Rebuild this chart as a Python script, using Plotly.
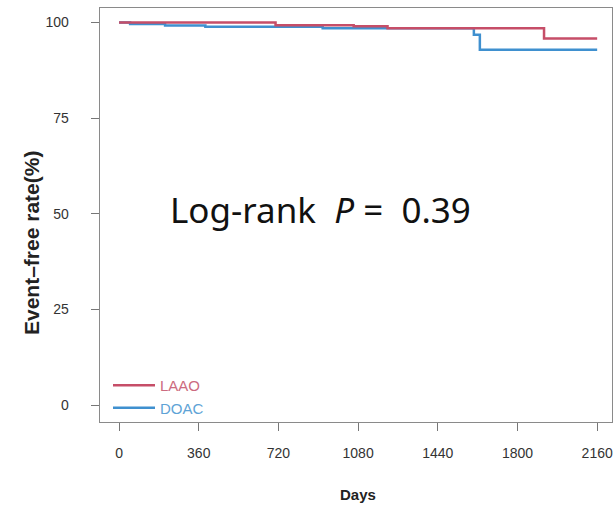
import plotly.graph_objects as go

# Kaplan-Meier step data
days_laao = [0, 707, 1060, 1213, 1920, 2160]
surv_laao = [100, 99.3, 99.0, 98.5, 95.8, 95.8]
days_doac = [0, 50, 208, 390, 920, 1603, 1630, 2160]
surv_doac = [100, 99.6, 99.2, 98.9, 98.5, 96.8, 92.9, 92.9]

x_ticks = [0, 360, 720, 1080, 1440, 1800, 2160]
y_ticks = [0, 25, 50, 75, 100]

red = "#c64e68"
blue = "#3f90cf"

fig = go.Figure()
fig.add_trace(go.Scatter(
    x=days_doac, y=surv_doac, mode="lines", line_shape="hv",
    line=dict(color=blue, width=2.5),
    name="<span style='color:#5ea3d6'>DOAC</span>"))
fig.add_trace(go.Scatter(
    x=days_laao, y=surv_laao, mode="lines", line_shape="hv",
    line=dict(color=red, width=2.5),
    name="<span style='color:#cc6b80'>LAAO</span>"))

axis_common = dict(showline=True, mirror=True, linecolor="#8a8a8a", linewidth=1,
                   ticks="outside", ticklen=8, tickcolor="#777", tickwidth=1,
                   showgrid=False, zeroline=False,
                   tickfont=dict(family="Liberation Sans, Arial", size=14, color="#333"))

fig.update_xaxes(range=[-86, 2227], tickvals=x_ticks, ticklabelstandoff=10, **axis_common)
fig.update_yaxes(range=[-4.4, 103.8], tickvals=y_ticks,
                 ticktext=[f"{v}" + "\u00a0" * 5 for v in y_ticks], **axis_common)

W, H = 615, 506
ml, mr, mt, mb = 100, 3, 8, 84
pw, ph = W - ml - mr, H - mt - mb

def px2paper(px, py):
    return (px - ml) / pw, 1 - (py - mt) / ph

ax, ay = px2paper(31, 243)
fig.add_annotation(x=ax, y=ay, xref="paper", yref="paper", text="<b>Event\u2013free rate(%)</b>",
                   showarrow=False, textangle=-90, xanchor="center", yanchor="middle",
                   font=dict(family="Liberation Sans, Arial", size=21, color="#222"))
dx, dy = px2paper(358, 495)
fig.add_annotation(x=dx, y=dy, xref="paper", yref="paper", text="<b>Days</b>", showarrow=False,
                   xanchor="center", yanchor="middle",
                   font=dict(family="Liberation Sans, Arial", size=15, color="#222"))
lx, ly = px2paper(320, 210)
fig.add_annotation(x=lx, y=ly, xref="paper", yref="paper", text="Log-rank  <i>P</i> =  0.39",
                   showarrow=False, xanchor="center", yanchor="middle",
                   font=dict(family="Noto Sans", size=35, color="#111"))

lgx, lgy = px2paper(108, 369)
fig.update_layout(
    width=W, height=H,
    margin=dict(l=ml, r=mr, t=mt, b=mb),
    paper_bgcolor="white", plot_bgcolor="white",
    showlegend=True,
    legend=dict(x=lgx, y=lgy, xanchor="left", yanchor="top", traceorder="reversed",
                bgcolor="rgba(0,0,0,0)", borderwidth=0, itemwidth=42,
                font=dict(family="Liberation Sans, Arial", size=15),
                tracegroupgap=0),
)

fig.write_html("out.html")
